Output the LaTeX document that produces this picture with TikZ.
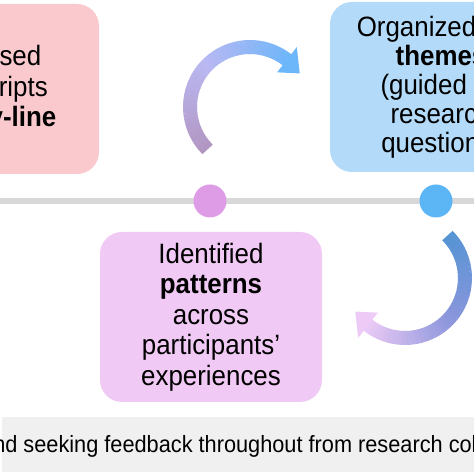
\documentclass[tikz,border=0pt]{standalone}
\usepackage{fontspec}
\setmainfont{Liberation Sans}[FakeStretch=0.925]
\definecolor{rosebg}{RGB}{249,201,205}
\definecolor{skybg}{RGB}{179,219,249}
\definecolor{lilacbg}{RGB}{240,201,244}
\definecolor{linegrey}{RGB}{216,216,216}
\definecolor{dotpink}{RGB}{222,155,230}
\definecolor{dotblue}{RGB}{92,182,246}
\definecolor{notegrey}{RGB}{240,240,240}
\definecolor{arcmauve}{RGB}{178,150,194}
\definecolor{arclav}{RGB}{186,184,242}
\definecolor{arcsky}{RGB}{108,182,250}
\definecolor{arcsteel}{RGB}{86,148,212}
\definecolor{arcperi}{RGB}{140,150,220}
\definecolor{arcpink}{RGB}{237,203,246}

\begin{document}
\begin{tikzpicture}[x=1pt,y=1pt,
  stage/.style={rounded corners=22pt,minimum width=222pt,minimum height=170pt,
    align=center,inner sep=0pt,font=\fontsize{28}{30.5}\selectfont},
  stepdot/.style={circle,minimum size=33pt,inner sep=0pt}]
 \clip (0,0) rectangle (474,474);
 % the three stages
 \node[stage,fill=rosebg] (transcripts) at (-12,385)
   {Analysed\\transcripts\\\textbf{line-by-line}};
 \node[stage,fill=skybg,font=\fontsize{28}{29}\selectfont] (themes) at (441,387)
   {Organized into\\\textbf{themes}\\(guided by\\research\\questions)};
 \node[stage,fill=lilacbg] (patterns) at (211,157)
   {Identified\\\textbf{patterns}\\across\\participants'\\experiences};
 % timeline
 \draw[line width=6pt,linegrey] (0,273) -- (474,273);
 \node[stepdot,fill=dotpink] (stepA) at (210,273) {};
 \node[stepdot,fill=dotblue] (stepB) at (436,273) {};
 % curved arrows, shaded by short pieces
 \coordinate (turnA) at (250,367);
 \coordinate (turnB) at (405,196);
 \begin{scope}[shift={(turnA)}]
  \foreach \i in {0,...,39}{
   \pgfmathsetmacro\a{225-4.325*\i}
   \pgfmathtruncatemacro\pc{\i<20 ? 100-5*\i : 200-5*\i}
   \ifnum\i<20 \colorlet{segcol}{arcmauve!\pc!arclav}\else\colorlet{segcol}{arclav!\pc!arcsky}\fi
   \draw[segcol,line width=14pt] (\a:60) arc[start angle=\a,delta angle=-4.9,radius=60];
  }
  \fill[arcsky] (52:44) -- (52:76) -- (34:60) -- cycle;
 \end{scope}
 \begin{scope}[shift={(turnB)}]
  \foreach \i in {0,...,39}{
   \pgfmathsetmacro\a{45-4.325*\i}
   \pgfmathtruncatemacro\pc{\i<20 ? 100-5*\i : 200-5*\i}
   \ifnum\i<20 \colorlet{segcol}{arcsteel!\pc!arcperi}\else\colorlet{segcol}{arcperi!\pc!arcpink}\fi
   \draw[segcol,line width=14pt] (\a:60) arc[start angle=\a,delta angle=-4.9,radius=60];
  }
  \fill[arcpink] (-128:44) -- (-128:76) -- (-146:60) -- cycle;
 \end{scope}
 % note along the bottom
 \fill[notegrey] (2,2) rectangle (480,57);
 \node[anchor=base west,inner sep=0pt,font=\fontsize{23.5}{26}\selectfont] (note) at (-19,21)
   {and seeking feedback throughout from research colleagues};
\end{tikzpicture}
\end{document}
